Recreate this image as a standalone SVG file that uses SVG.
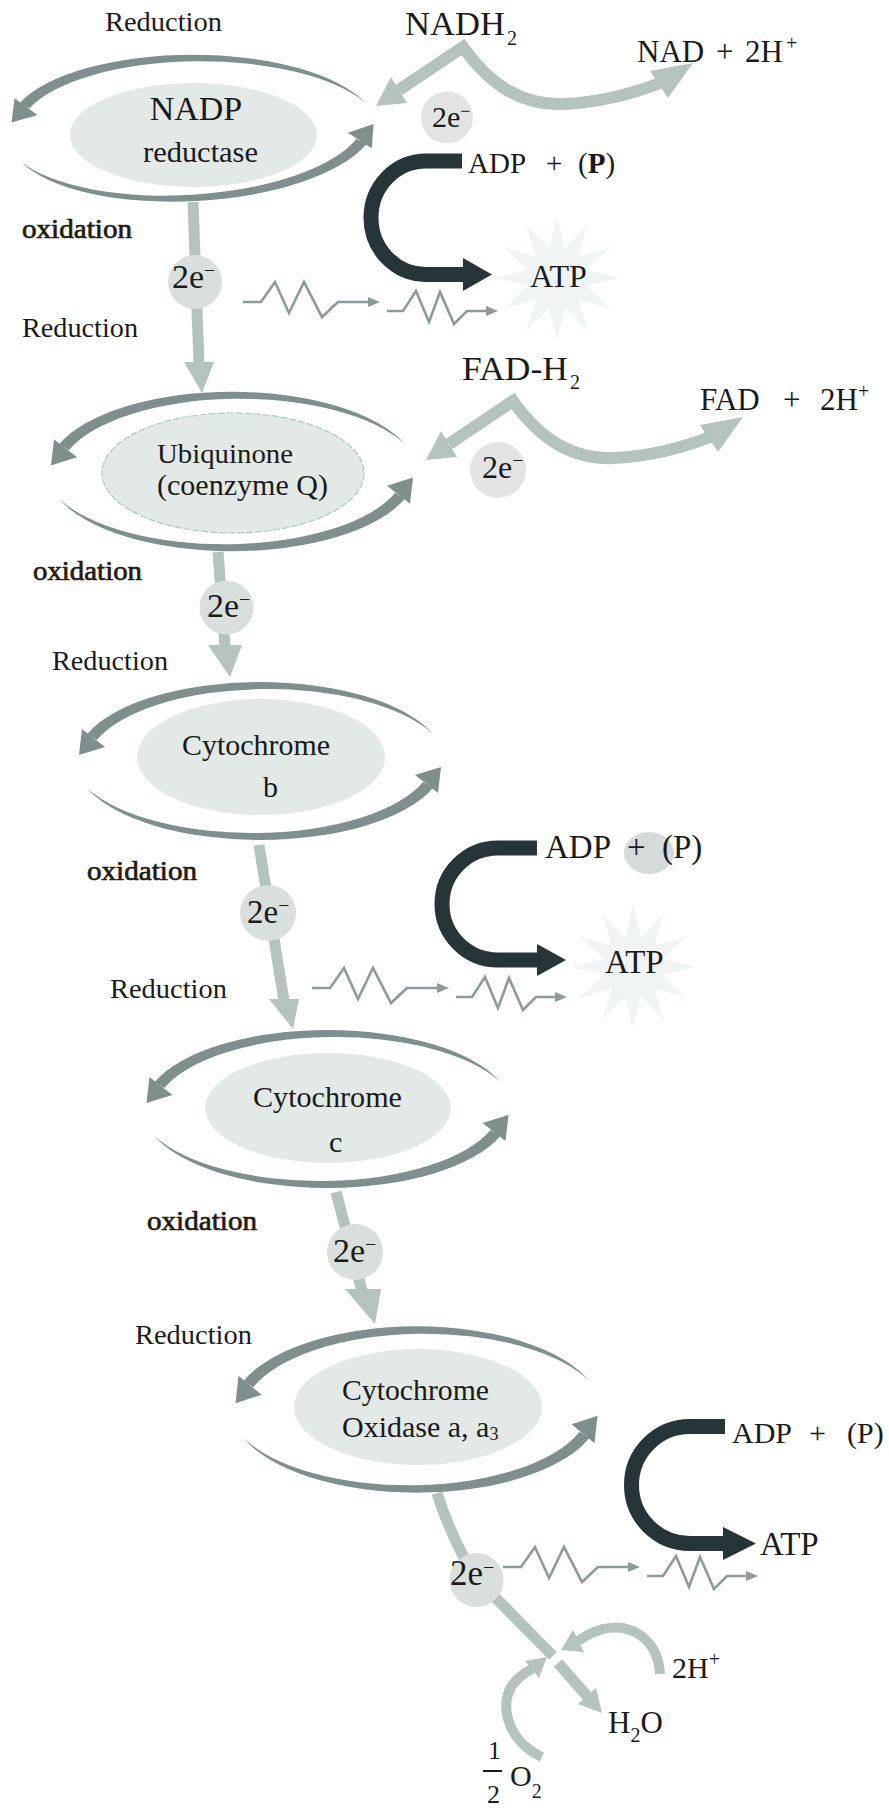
<svg xmlns="http://www.w3.org/2000/svg" width="889" height="1814" viewBox="0 0 889 1814">
<style>
 text { font-family: "Liberation Serif", "Times New Roman", serif; fill: #1a1a1a; }
 .red { font-size: 28px; }
 .ox { font-size: 28px; fill: #231a12; stroke: #231a12; stroke-width: 0.7; }
 .core { fill: #e3e9e7; }
 .ecirc { fill: #d9dfdd; }
 .shaft { fill: none; stroke: #b4c3c0; stroke-width: 11; }
 .lhead { fill: #b4c3c0; }
 .dark { fill: none; stroke: #263638; stroke-width: 15; }
 .dhead { fill: #263638; }
 .star { fill: #f0f4f4; }
 .minus { font-size: 20px; }
</style>
<defs>
 <g id="half" fill="#7e8f8d">
  <path d="M-172.9,-27 A184,79 0 0 1 172.9,-27 A180.9,75.9 0 0 0 -163.1,-21.1 Z"/>
  <path d="M-178,-32 L-181,-6 L-155,-14 Z"/>
 </g>
 <g id="ringshape">
  <use href="#half"/>
  <use href="#half" transform="rotate(180)"/>
 </g>
 <polygon id="star" points="0,-62 7.8,-29 31,-53.7 21.2,-21.2 53.7,-31 29,-7.8 62,0 29,7.8 53.7,31 21.2,21.2 31,53.7 7.8,29 0,62 -7.8,29 -31,53.7 -21.2,21.2 -53.7,31 -29,7.8 -62,0 -29,-7.8 -53.7,-31 -21.2,-21.2 -31,-53.7 -7.8,-29"/>
 <g id="zig">
  <polyline points="0,0 18,0 32,-20 46,11 61,-20 79,15 95,0 127,0" fill="none" stroke="#8c9b99" stroke-width="2.6"/>
  <polyline points="144,9 160,9 173,-11 186,20 197,-10 211,22 224,9 245,9" fill="none" stroke="#8c9b99" stroke-width="2.6"/>
  <path d="M125,-5 L137,0 L125,5 Z" fill="#8c9b99"/>
  <path d="M243,4 L255,9 L243,14 Z" fill="#8c9b99"/>
 </g>
 <g id="feed">
  <path d="M399,90 L463,47 C490,85 522,106 565,104 C600,102 632,94 660,83" fill="none" stroke="#b4c3c0" stroke-width="12" stroke-linejoin="miter"/>
  <path d="M376,106 L407,103 L391,77 Z" fill="#b4c3c0"/>
  <path d="M693,63 L650,71 L668,98 Z" fill="#b4c3c0"/>
 </g>
</defs>

<rect x="0" y="0" width="889" height="1814" fill="#ffffff"/>

<!-- ATP bursts -->
<g id="bursts">
 <use href="#star" class="star" transform="translate(557,278)"/>
 <use href="#star" class="star" transform="translate(633,967)"/>
</g>

<!-- connectors -->
<g id="connectors">
 <use href="#feed"/>
 <use href="#feed" transform="translate(50,354)"/>

 <line class="shaft" x1="193" y1="202" x2="199" y2="364"/>
 <path class="lhead" d="M184,362 L214,362 L202,393 Z"/>
 <line class="shaft" x1="218" y1="552" x2="225" y2="647"/>
 <path class="lhead" d="M208,645 L242,645 L230,677 Z"/>
 <line class="shaft" x1="259" y1="845" x2="284" y2="1001"/>
 <path class="lhead" d="M269,999 L299,999 L293,1029 Z"/>
 <line class="shaft" x1="336" y1="1192" x2="362" y2="1291"/>
 <path class="lhead" d="M345,1289 L381,1289 L375,1324 Z"/>
 <path class="shaft" d="M437,1493 Q452,1540 476,1578 L553,1656"/>
 <path class="shaft" d="M558,1663 L587,1696"/>
 <path class="lhead" d="M602,1713 L596,1688 L578,1704 Z"/>

 <path d="M660,1674 C658,1640 632,1622 603,1629 C593,1632 585,1636 578,1641" fill="none" stroke="#b4c3c0" stroke-width="10"/>
 <path class="lhead" d="M561,1650 L584,1652 L573,1630 Z"/>
 <path d="M542,1757 C505,1740 498,1700 515,1682 C520,1676 526,1672 532,1669" fill="none" stroke="#b4c3c0" stroke-width="10"/>
 <path class="lhead" d="M547,1657 L539,1678 L525,1661 Z"/>

 <path class="dark" d="M462,161 H426 A55,56.75 0 0 0 426,274.5 H465"/>
 <path class="dhead" d="M463,258 L492,274.5 L463,291 Z"/>
 <path class="dark" d="M537,848 H498 A56,56 0 0 0 498,960 H539"/>
 <path class="dhead" d="M537,944 L566,960 L537,976 Z"/>
 <path class="dark" d="M725,1426.5 H690 A58.5,58.5 0 0 0 690,1543.5 H725"/>
 <path class="dhead" d="M723,1527 L756,1543.5 L723,1560 Z"/>

 <use href="#zig" transform="translate(243,302)"/>
 <use href="#zig" transform="translate(312,988)"/>
 <use href="#zig" transform="translate(503,1567)"/>
</g>

<!-- ring nodes -->
<g id="node-nadp">
 <ellipse class="core" cx="193.5" cy="135" rx="123.5" ry="52"/>
 <use href="#half" transform="translate(192.5,128) scale(1,0.927)"/>
 <use href="#half" transform="translate(192.5,128) rotate(-3) scale(1,0.927) rotate(180)"/>
 <text x="196" y="120" font-size="34" text-anchor="middle">NADP</text>
 <text x="143" y="162" font-size="30" textLength="115" lengthAdjust="spacingAndGlyphs">reductase</text>
</g>
<g id="node-ubiquinone">
 <ellipse class="core" cx="233" cy="473" rx="131" ry="60" stroke="#a9cbbf" stroke-width="1.2" stroke-dasharray="7 2"/>
 <use href="#ringshape" transform="translate(232,471.5) scale(1,1.01)"/>
 <text x="157" y="463" font-size="28" textLength="136" lengthAdjust="spacingAndGlyphs">Ubiquinone</text>
 <text x="157" y="495" font-size="29" textLength="171" lengthAdjust="spacingAndGlyphs">(coenzyme Q)</text>
</g>
<g id="node-cytb">
 <ellipse class="core" cx="261" cy="757" rx="124" ry="58"/>
 <use href="#ringshape" transform="translate(260,761)"/>
 <text x="182" y="755" font-size="30" textLength="148" lengthAdjust="spacingAndGlyphs">Cytochrome</text>
 <text x="263" y="797" font-size="30">b</text>
</g>
<g id="node-cytc">
 <ellipse class="core" cx="328" cy="1108" rx="123" ry="55"/>
 <use href="#ringshape" transform="translate(327.5,1109)"/>
 <text x="253" y="1107" font-size="30" textLength="149" lengthAdjust="spacingAndGlyphs">Cytochrome</text>
 <text x="329" y="1152" font-size="30">c</text>
</g>
<g id="node-oxidase">
 <ellipse class="core" cx="418" cy="1407" rx="124" ry="58"/>
 <use href="#ringshape" transform="translate(416.5,1409.5) scale(1,1.053)"/>
 <text x="342" y="1400" font-size="30" textLength="147" lengthAdjust="spacingAndGlyphs">Cytochrome</text>
 <text x="342" y="1437" font-size="30">Oxidase a, a<tspan font-size="18" dy="3">3</tspan></text>
</g>

<!-- electron carriers -->
<g id="e-nadh">
 <circle cx="447" cy="117.5" r="26" fill="#e2e4e4"/>
 <text x="432" y="127" font-size="30">2e<tspan font-size="18" dy="-10">−</tspan></text>
</g>
<g id="e-1">
 <circle class="ecirc" cx="195" cy="282" r="27"/>
 <text x="172" y="288" font-size="34">2e<tspan class="minus" dy="-11">−</tspan></text>
</g>
<g id="e-fad">
 <circle cx="498" cy="470" r="28" fill="#e2e4e4"/>
 <text x="482" y="478" font-size="32">2e<tspan class="minus" dy="-11">−</tspan></text>
</g>
<g id="e-2">
 <circle class="ecirc" cx="226.5" cy="607.5" r="27"/>
 <text x="207" y="617" font-size="34">2e<tspan class="minus" dy="-11">−</tspan></text>
</g>
<g id="e-3">
 <circle class="ecirc" cx="268" cy="913" r="28"/>
 <text x="247" y="923" font-size="33">2e<tspan class="minus" dy="-11">−</tspan></text>
</g>
<g id="e-4">
 <circle class="ecirc" cx="355" cy="1252" r="28"/>
 <text x="333" y="1262" font-size="34">2e<tspan class="minus" dy="-11">−</tspan></text>
</g>
<g id="e-5">
 <circle class="ecirc" cx="476.5" cy="1580" r="27"/>
 <text x="450" y="1585" font-size="35">2e<tspan class="minus" dy="-11">−</tspan></text>
</g>

<!-- side labels -->
<g id="labels">
 <text class="red" x="105" y="31" textLength="117" lengthAdjust="spacingAndGlyphs">Reduction</text>
 <text class="red" x="22" y="337" textLength="116" lengthAdjust="spacingAndGlyphs">Reduction</text>
 <text class="red" x="52" y="670" textLength="116" lengthAdjust="spacingAndGlyphs">Reduction</text>
 <text class="red" x="110" y="998" textLength="117" lengthAdjust="spacingAndGlyphs">Reduction</text>
 <text class="red" x="135" y="1344" textLength="117" lengthAdjust="spacingAndGlyphs">Reduction</text>
 <text class="ox" x="22" y="238" textLength="110" lengthAdjust="spacingAndGlyphs">oxidation</text>
 <text class="ox" x="33" y="580" textLength="109" lengthAdjust="spacingAndGlyphs">oxidation</text>
 <text class="ox" x="87" y="880" textLength="110" lengthAdjust="spacingAndGlyphs">oxidation</text>
 <text class="ox" x="147" y="1230" textLength="110" lengthAdjust="spacingAndGlyphs">oxidation</text>
</g>

<g id="node-nadh2">
 <text x="405" y="35" font-size="33" textLength="100" lengthAdjust="spacingAndGlyphs">NADH</text>
 <text x="507" y="45" font-size="20">2</text>
</g>
<g id="node-nad">
 <text x="637" y="62" font-size="31">NAD<tspan x="716">+</tspan><tspan x="745">2H</tspan><tspan x="786" dy="-12" font-size="20">+</tspan></text>
</g>
<g id="node-fadh2">
 <text x="462" y="380" font-size="33" textLength="106" lengthAdjust="spacingAndGlyphs">FAD-H</text>
 <text x="570" y="389" font-size="20">2</text>
</g>
<g id="node-fad">
 <text x="700" y="410" font-size="31">FAD<tspan x="783">+</tspan><tspan x="820">2H</tspan><tspan x="858" dy="-12" font-size="20">+</tspan></text>
</g>

<g id="node-adp1">
 <text x="468" y="173" font-size="29">ADP<tspan x="546">+</tspan><tspan x="578">(</tspan><tspan font-weight="bold">P</tspan><tspan>)</tspan></text>
</g>
<g id="node-atp1">
 <text x="530" y="287" font-size="32">ATP</text>
</g>
<g id="node-adp2">
 <ellipse cx="649" cy="853" rx="25" ry="21" fill="#d5dada"/>
 <text x="545" y="858" font-size="33">ADP<tspan x="627">+</tspan><tspan x="662">(P)</tspan></text>
</g>
<g id="node-atp2">
 <text x="605" y="973" font-size="33">ATP</text>
</g>
<g id="node-adp3">
 <text x="732" y="1443" font-size="30">ADP<tspan x="809">+</tspan><tspan x="847">(P)</tspan></text>
</g>
<g id="node-atp3">
 <text x="760" y="1555" font-size="33">ATP</text>
</g>

<g id="node-2h">
 <text x="672" y="1678" font-size="30">2H<tspan dy="-12" font-size="20">+</tspan></text>
</g>
<g id="node-h2o">
 <text x="608" y="1733" font-size="31">H<tspan font-size="20" dy="9">2</tspan><tspan dy="-9">O</tspan></text>
</g>
<g id="node-o2">
 <text x="488" y="1759" font-size="26">1</text>
 <line x1="483" y1="1771" x2="502" y2="1771" stroke="#1a1a1a" stroke-width="2"/>
 <text x="487" y="1803" font-size="26">2</text>
 <text x="510" y="1786" font-size="30">O<tspan font-size="20" dy="12">2</tspan></text>
</g>
</svg>
